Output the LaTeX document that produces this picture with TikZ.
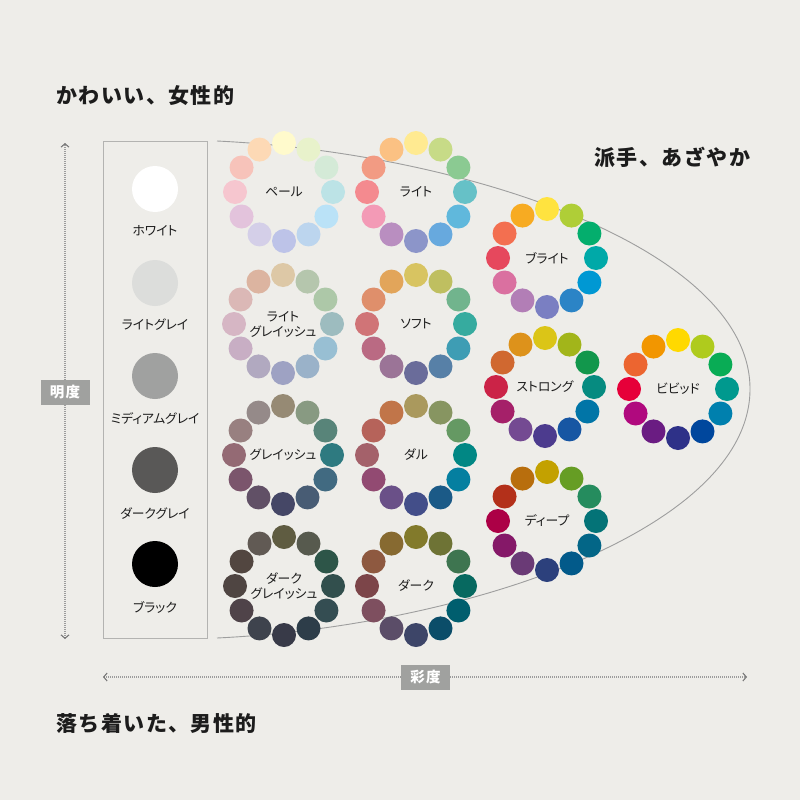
\documentclass[tikz,border=0pt]{standalone}
\usepackage{fontspec}
\setmainfont{Noto Sans CJK JP}[RawFeature=+palt]
\newfontfamily\jptitle{Noto Sans CJK JP}[LetterSpace=7]
\newfontfamily\jpaxis{Noto Sans CJK JP}[LetterSpace=10]
\usetikzlibrary{arrows.meta,calc}
\definecolor{bg}{HTML}{EEEDE9}
\definecolor{ink}{HTML}{1C1C1C}
\definecolor{axisgray}{HTML}{A0A19F}
\definecolor{dotgray}{HTML}{9C9C9C}
\definecolor{tipgray}{HTML}{707070}
\definecolor{curvegray}{HTML}{9E9E9E}
\definecolor{panelgray}{HTML}{B3B3B1}
\definecolor{gWhite}{HTML}{FFFFFF}
\definecolor{gLight}{HTML}{DCDDDB}
\definecolor{gMedium}{HTML}{A0A1A0}
\definecolor{gDark}{HTML}{595857}
\definecolor{gBlack}{HTML}{000000}
\tikzset{
  dotc/.style={circle, minimum size=24pt, inner sep=0pt, draw=none},
  graydot/.style={circle, minimum size=46pt, inner sep=0pt, draw=none},
  wlabel/.style={font=\fontsize{12.8}{15}\selectfont, text=ink, align=center, inner sep=0pt},
  glabel/.style={font=\fontsize{12.8}{15}\selectfont, text=ink, inner sep=0pt},
  titletext/.style={font=\jptitle\bfseries\fontsize{21}{21}\selectfont, text=ink, anchor=west, inner sep=0pt},
  axisline/.style={draw=dotgray, line width=1.6pt, dash pattern=on 1pt off 1pt,
    {Straight Barb[length=3.5pt,width=8pt,line width=1pt,color=tipgray]}-{Straight Barb[length=3.5pt,width=8pt,line width=1pt,color=tipgray]}},
  axislabel/.style={fill=axisgray, text=white, font=\jpaxis\bfseries\fontsize{14.5}{14.5}\selectfont,
    minimum width=49pt, minimum height=25pt, inner sep=0pt},
  envelope/.style={draw=curvegray, line width=0.9pt},
}
\newcommand\colorwheel[4]{%
  \coordinate (#1) at (#2,#3);
  \foreach \col [count=\i from 0] in {#4} {
    \definecolor{wc}{HTML}{\col}
    \node[dotc, fill=wc] (#1-\i) at ($(#1)+(-90+30*\i:49)$) {};
  }
}
\begin{document}
\begin{tikzpicture}[x=1pt,y=-1pt]
\fill[bg] (0,0) rectangle (800,800);
\useasboundingbox (0,0) rectangle (800,800);

% envelope curve
\coordinate (e0) at (217,141);
\coordinate (e1) at (467,153);
\coordinate (e2) at (750,249);
\coordinate (e3) at (750,389);
\coordinate (e4) at (750,529);
\coordinate (e5) at (467,626);
\coordinate (e6) at (217,638);
\draw[envelope] (e0) .. controls (e1) and (e2) .. (e3) .. controls (e4) and (e5) .. (e6);

% titles
\node[titletext] (t1) at (56,96) {かわいい、女性的};
\node[titletext] (t2) at (594,157) {派手、あざやか};
\node[titletext] (t3) at (56,723) {落ち着いた、男性的};

% axes
\coordinate (vtop) at (65,143);
\coordinate (vbot) at (65,639);
\draw[axisline] (vbot) -- (vtop);
\node[axislabel] (lum) at (65,392) {明度};
\coordinate (hleft) at (103,677);
\coordinate (hright) at (747,677);
\draw[axisline] (hleft) -- (hright);
\node[axislabel] (sat) at (425.5,677) {彩度};

% gray panel
\node[draw=panelgray, line width=0.9pt, minimum width=104pt, minimum height=497pt, inner sep=0pt] (panel) at (155,389.5) {};
\node[graydot, fill=gWhite] (white) at (155,189) {};
\node[glabel] (whitel) at (155,231) {ホワイト};
\node[graydot, fill=gLight] (lgray) at (155,283) {};
\node[glabel] (lgrayl) at (155,325) {ライトグレイ};
\node[graydot, fill=gMedium] (mgray) at (155,376) {};
\node[glabel] (mgrayl) at (155,419) {ミディアムグレイ};
\node[graydot, fill=gDark] (dgray) at (155,470) {};
\node[glabel] (dgrayl) at (155,514) {ダークグレイ};
\node[graydot, fill=gBlack] (black) at (155,564) {};
\node[glabel] (blackl) at (155,607) {ブラック};

% wheels
\colorwheel{pale}{284}{192}{FFFACC,E8F2CB,D4EAD7,BCE3E6,BAE2F7,BCD5EE,BDC3E8,D4CFE8,E3C3DC,F6C6CF,F7C3BA,FDD9B5}
\node[wlabel] (pale-l) at (pale) {ペール};
\colorwheel{light}{416}{192}{FFEA91,C7DB87,8BCA92,66C1C7,60B8DC,67A9DE,8C95C9,B98EC0,F39AB6,F48A8F,F29B83,FBC183}
\node[wlabel] (light-l) at (light) {ライト};
\colorwheel{ltg}{283}{324}{DDC8A6,B5C6AD,ADC8A8,9DBCBF,98BFD3,9AB2C9,9EA2C3,B1A9C0,C8AEC4,D6B6C4,DBB8B6,DCB4A0}
\node[wlabel] (ltg-l) at (ltg) {ライト\\グレイッシュ};
\colorwheel{soft}{416}{324}{D8C461,BFBF60,71B48D,36AB9F,3E9DB4,5780A7,6A6C9A,9B7497,BA6A83,D07477,DF8F6B,E2A55A}
\node[wlabel] (soft-l) at (soft) {ソフト};
\colorwheel{gry}{283}{455}{968A74,889A82,588479,2E7A80,416A81,485C74,454766,615066,7B556C,946A74,988080,958A89}
\node[wlabel] (gry-l) at (gry) {グレイッシュ};
\colorwheel{dull}{416}{455}{AA995D,879561,659963,018784,057FA0,1B5A87,434E89,6A5088,924A72,A4616A,B6635A,C17549}
\node[wlabel] (dull-l) at (dull) {ダル};
\colorwheel{dkg}{284}{586}{5F5C41,575A4E,2D5548,324F4D,344D52,2D3D49,383A48,3E434D,4F4349,4F4542,524640,615A54}
\node[wlabel] (dkg-l) at (dkg) {ダーク\\グレイッシュ};
\colorwheel{dark}{416}{586}{827A2B,6E7335,3E7550,076960,005E6E,0B4D69,3D4568,5B4D68,7E4F5F,7C4549,8E5940,876A31}
\node[wlabel] (dark-l) at (dark) {ダーク};
\colorwheel{bright}{547}{258}{FFE33F,AFCE37,04AE6D,00A9A8,0098D3,2B84C6,7A7FC2,B27EB6,DA70A0,E6485D,F36F50,F7AB22}
\node[wlabel] (bright-l) at (bright) {ブライト};
\colorwheel{strong}{545}{387}{DBC517,A2B51A,12974C,068B80,0175A7,1756A3,4C3B8E,744A92,A52069,CB2347,D06830,DD921B}
\node[wlabel] (strong-l) at (strong) {ストロング};
\colorwheel{deep}{547}{521}{C3A100,669D24,258C5E,047377,036687,025A8A,2C407C,6A3A76,851868,AC0046,B3301A,B86E0D}
\node[wlabel] (deep-l) at (deep) {ディープ};
\colorwheel{vivid}{678}{389}{FFD900,AFCB1D,09AC55,00998E,0080AE,00479D,2E3188,6A1C82,B0097E,E60039,EC6530,F29600}
\node[wlabel] (vivid-l) at (vivid) {ビビッド};
\end{tikzpicture}
\end{document}
